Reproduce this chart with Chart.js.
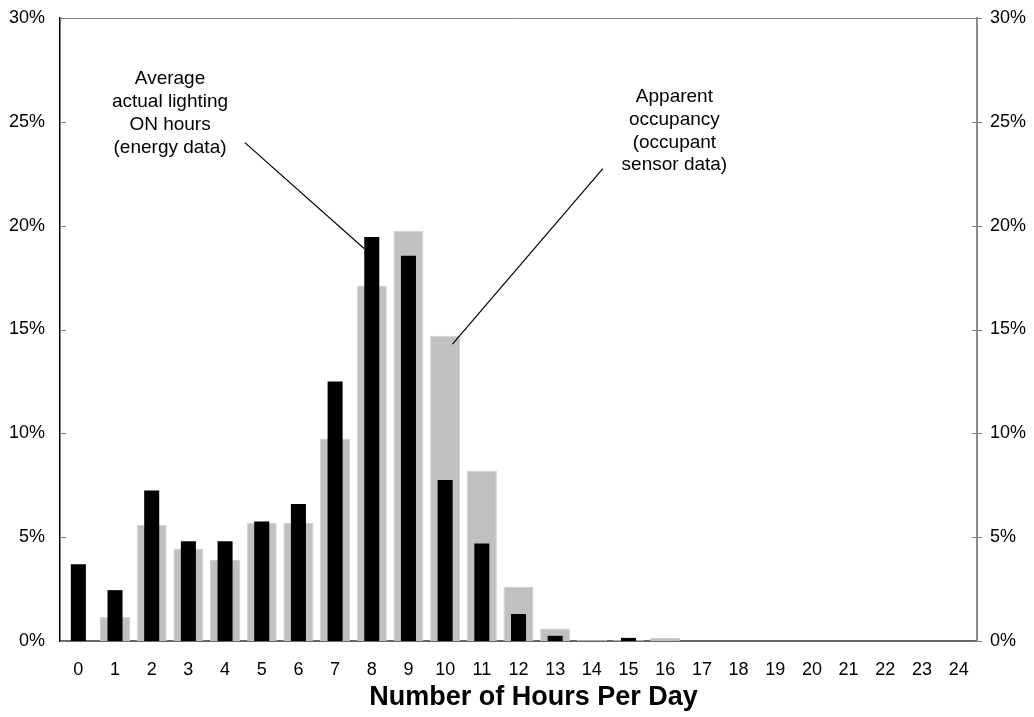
<!DOCTYPE html>
<html>
<head>
<meta charset="utf-8">
<script src="https://cdn.jsdelivr.net/npm/chart.js@4/dist/chart.umd.min.js"></script>
<style>
  html, body { margin: 0; padding: 0; background: #fff; overflow: hidden; }
  canvas { display: block; }
</style>
</head>
<body>
<canvas id="hoursChart" width="1034" height="717"></canvas>
<script>
// categories: hours per day
const hours = ['0','1','2','3','4','5','6','7','8','9','10','11','12','13','14','15','16','17','18','19','20','21','22','23','24'];
// average actual lighting ON hours (energy data), %
const lightingOn = [3.7, 2.45, 7.25, 4.8, 4.8, 5.75, 6.6, 12.5, 19.45, 18.55, 7.75, 4.7, 1.3, 0.25, 0, 0.15, 0, 0, 0, 0, 0, 0, 0, 0, 0];
// apparent occupancy (occupant sensor data), %
const occupancy = [0, 1.15, 5.6, 4.45, 3.9, 5.7, 5.7, 9.75, 17.1, 19.75, 14.7, 8.2, 2.6, 0.6, 0.05, 0.05, 0.15, 0, 0, 0, 0, 0, 0, 0, 0];
const pctTicks = [0, 5, 10, 15, 20, 25, 30];

// callouts, placed in data units (category index, %)
const callouts = [
  { text: ['Average', 'actual lighting', 'ON hours', '(energy data)'], at: [2.5, 27.05], from: [4.54, 24.0], to: [7.79, 18.9] },
  { text: ['Apparent', 'occupancy', '(occupant', 'sensor data)'], at: [16.25, 26.2], from: [14.3, 22.75], to: [10.2, 14.3] },
];

const FONT = 'Arial, "Liberation Sans", sans-serif';

const frame = {
  id: 'frame',
  afterDatasetsDraw(chart) {
    const { ctx, chartArea: a, scales } = chart;
    const x = scales.x, y = scales.y;
    ctx.save();
    // top border
    ctx.strokeStyle = '#808080';
    ctx.lineWidth = 1;
    ctx.beginPath();
    ctx.moveTo(a.left, a.top + 0.5);
    ctx.lineTo(a.right, a.top + 0.5);
    ctx.stroke();
    // tick marks
    pctTicks.forEach(v => {
      const py = Math.round(y.getPixelForValue(v)) + 0.5;
      ctx.strokeStyle = '#808080';
      ctx.beginPath();
      ctx.moveTo(a.left, py); ctx.lineTo(a.left + 6, py);
      ctx.moveTo(a.right - 5, py); ctx.lineTo(a.right + 5, py);
      ctx.stroke();
    });
    // callouts
    ctx.fillStyle = '#000';
    ctx.strokeStyle = '#000';
    ctx.lineWidth = 1.2;
    ctx.font = '19px ' + FONT;
    ctx.textAlign = 'center';
    ctx.textBaseline = 'middle';
    callouts.forEach(c => {
      const cx = x.getPixelForValue(c.at[0]);
      const cy = y.getPixelForValue(c.at[1]);
      c.text.forEach((t, i) => ctx.fillText(t, cx, cy + i * 22.7));
      ctx.beginPath();
      ctx.moveTo(x.getPixelForValue(c.from[0]), y.getPixelForValue(c.from[1]));
      ctx.lineTo(x.getPixelForValue(c.to[0]), y.getPixelForValue(c.to[1]));
      ctx.stroke();
    });
    ctx.restore();
  }
};

// vertical axes: fixed width, and no extra top/bottom padding from tick padding
function fitY(width) {
  return s => { s.width = width; s.paddingTop = 8; s.paddingBottom = 8; };
}

new Chart(document.getElementById('hoursChart'), {
  type: 'bar',
  data: {
    labels: hours,
    datasets: [
      {
        label: 'Average actual lighting ON hours (energy data)',
        data: lightingOn,
        backgroundColor: '#000000',
        categoryPercentage: 1,
        barPercentage: 0.41,
        order: 0,
      },
      {
        label: 'Apparent occupancy (occupant sensor data)',
        data: occupancy,
        backgroundColor: '#c0c0c0',
        borderColor: '#d0d0d0',
        borderWidth: 1,
        categoryPercentage: 1,
        barPercentage: 0.82,
        order: 1,
      },
    ],
  },
  options: {
    responsive: false,
    animation: false,
    grouped: false,
    layout: { padding: { top: 18, left: 0, right: 0, bottom: 0 } },
    plugins: {
      legend: { display: false },
      tooltip: { enabled: false },
    },
    scales: {
      x: {
        grid: { display: false, drawTicks: false },
        border: { display: true, color: '#666666', width: 2 },
        ticks: { color: '#000', font: { family: FONT, size: 18 }, padding: 18, maxRotation: 0, autoSkip: false },
        title: {
          display: true,
          text: '    Number of Hours Per Day',
          color: '#000',
          font: { family: FONT, size: 27, weight: 'bold' },
          padding: { top: 0, bottom: 3 },
        },
        afterFit(s) { s.height = 76; },
      },
      y: {
        position: 'left',
        min: 0, max: 30,
        grid: { display: false, drawTicks: false },
        border: { display: true, color: '#000', width: 1.5 },
        ticks: { stepSize: 5, color: '#000', font: { family: FONT, size: 18 }, padding: 15, callback: v => v + '%' },
        afterFit: fitY(60),
      },
      y2: {
        position: 'right',
        min: 0, max: 30,
        grid: { display: false, drawTicks: false },
        border: { display: true, color: '#8c8c8c', width: 2 },
        ticks: { stepSize: 5, color: '#000', font: { family: FONT, size: 18 }, padding: 13, callback: v => v + '%' },
        afterFit: fitY(57),
      },
    },
  },
  plugins: [frame],
});
</script>
</body>
</html>
